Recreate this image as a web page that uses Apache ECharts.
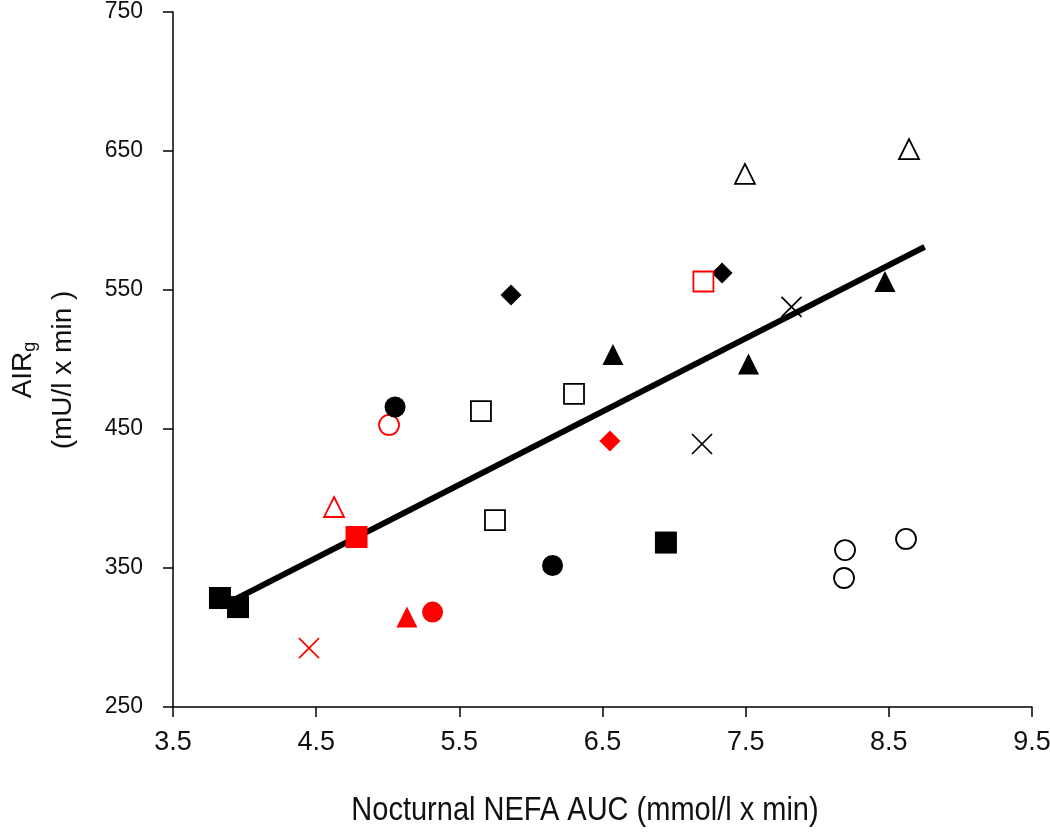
<!DOCTYPE html>
<html>
<head>
<meta charset="utf-8">
<script src="https://cdn.jsdelivr.net/npm/echarts@6/dist/echarts.min.js"></script>
<style>
html,body{margin:0;padding:0;background:#fff;}
#chart{width:1050px;height:835px;}
</style>
</head>
<body>
<div id="chart"></div>
<script>
// ---- data (x: Nocturnal NEFA AUC, y: AIRg) ----
const xTickLabels = ['3.5','4.5','5.5','6.5','7.5','8.5','9.5'];
const yTickLabels = ['250','350','450','550','650','750'];
const xTitle = 'Nocturnal NEFA AUC (mmol/l x min)';
const yTitleMain = 'AIR';
const yTitleSub = 'g';
const yTitleUnit = '(mU/l x min )';

const blackFilledSquare   = [[3.828,328.4],[3.954,321.9],[6.943,368.3]];
const redFilledSquare     = [[4.782,372.3]];
const redOpenTriangle     = [[4.625,393.9]];
const redCross            = [[4.45,292.4]];
const redFilledTriangle   = [[5.134,314.7]];
const redFilledCircle     = [[5.313,318.3]];
const redOpenCircle       = [[5.009,452.9]];
const blackFilledCircle   = [[5.051,465.8],[6.151,351.8]];
const blackFilledDiamond  = [[5.861,546.4],[7.335,562.2]];
const blackOpenSquare     = [[5.651,462.9],[6.301,475.2],[5.749,384.5]];
const blackFilledTriangle = [[6.573,503.6],[7.52,496.8],[8.473,556.1]];
const redFilledDiamond    = [[6.552,441.4]];
const blackOpenTriangle   = [[7.495,633.5],[8.641,651.4]];
const redOpenSquare       = [[7.205,556.1]];
const blackCross          = [[7.82,537.8],[7.195,439.2]];
const blackOpenCircle     = [[8.194,362.9],[8.187,342.8],[8.62,370.9]];
const regressionLine      = [[3.83,322],[8.75,581]];

const RED = '#ff0000', BLACK = '#000000';
const CROSS = 'path://M0,0L20,20M20,0L0,20';
const FONT = '"Liberation Sans Narrow","Liberation Sans",Arial,sans-serif';
const TXT = '#111111';

function filled(data, symbol, color, size) {
  return {type:'scatter', data, symbol, symbolSize:size, z:3,
    itemStyle:{color, borderWidth:0, opacity:1}, emphasis:{disabled:true}};
}
function open(data, symbol, color, size) {
  return {type:'scatter', data, symbol, symbolSize:size, z:3,
    itemStyle:{color:'#ffffff', borderColor:color, borderWidth:1.8, opacity:1}, emphasis:{disabled:true}};
}
function cross(data, color) {
  return {type:'scatter', data, symbol:CROSS, symbolSize:20, z:3,
    itemStyle:{color:'none', borderColor:color, borderWidth:1.7, opacity:1}, emphasis:{disabled:true}};
}

const chart = echarts.init(document.getElementById('chart'), null, {renderer:'canvas'});
chart.setOption({
  animation:false,
  backgroundColor:'#ffffff',
  grid:{left:173, right:18, top:12, bottom:128, containLabel:false, outerBoundsMode:'none'},
  xAxis:{
    type:'value', min:3.5, max:9.5, interval:1,
    axisLine:{show:true, onZero:false, lineStyle:{color:'#000', width:1.5}},
    axisTick:{show:true, inside:false, length:10, lineStyle:{color:'#000', width:1.5}},
    splitLine:{show:false},
    axisLabel:{color:TXT, fontFamily:FONT, fontSize:27, margin:22,
      formatter:v => xTickLabels[Math.round(v-3.5)] || ''}
  },
  yAxis:{
    type:'value', min:250, max:750, interval:100,
    axisLine:{show:true, onZero:false, lineStyle:{color:'#000', width:1.5}},
    axisTick:{show:true, inside:false, length:10, lineStyle:{color:'#000', width:1.5}},
    splitLine:{show:false},
    axisLabel:{color:TXT, fontFamily:FONT, fontSize:23, margin:30,
      formatter:v => yTickLabels[Math.round((v-250)/100)] || ''}
  },
  graphic:[
    {type:'text', x:585, y:811, scaleY:1.15, z:10,
      style:{text:xTitle, fill:TXT, font:'29px ' + FONT, align:'center', verticalAlign:'middle'}},
    {type:'text', x:43, y:370, rotation:Math.PI/2, z:10,
      style:{text:'{a|' + yTitleMain + '}{s|' + yTitleSub + '}\n{a|' + yTitleUnit + '}',
        fill:TXT, align:'center', verticalAlign:'middle',
        rich:{a:{fontFamily:FONT, fontSize:28, fill:TXT, lineHeight:40},
              s:{fontFamily:FONT, fontSize:18, fill:TXT, lineHeight:40, padding:[14,0,0,0]}}}}
  ],
  series:[
    {type:'line', data:regressionLine, symbol:'none', z:2,
      lineStyle:{color:'#000', width:6}, emphasis:{disabled:true}},
    filled(blackFilledSquare, 'rect', BLACK, 22),
    filled(redFilledSquare, 'rect', RED, 22),
    open(redOpenTriangle, 'triangle', RED, 20),
    cross(redCross, RED),
    filled(redFilledTriangle, 'triangle', RED, 21),
    filled(redFilledCircle, 'circle', RED, 21),
    open(redOpenCircle, 'circle', RED, 20),
    filled(blackFilledCircle, 'circle', BLACK, 21),
    filled(blackFilledDiamond, 'diamond', BLACK, 21),
    open(blackOpenSquare, 'rect', BLACK, 20),
    filled(blackFilledTriangle, 'triangle', BLACK, 21),
    filled(redFilledDiamond, 'diamond', RED, 21),
    open(blackOpenTriangle, 'triangle', BLACK, 20),
    open(redOpenSquare, 'rect', RED, 20),
    cross(blackCross, BLACK),
    open(blackOpenCircle, 'circle', BLACK, 20)
  ]
});
</script>
</body>
</html>
